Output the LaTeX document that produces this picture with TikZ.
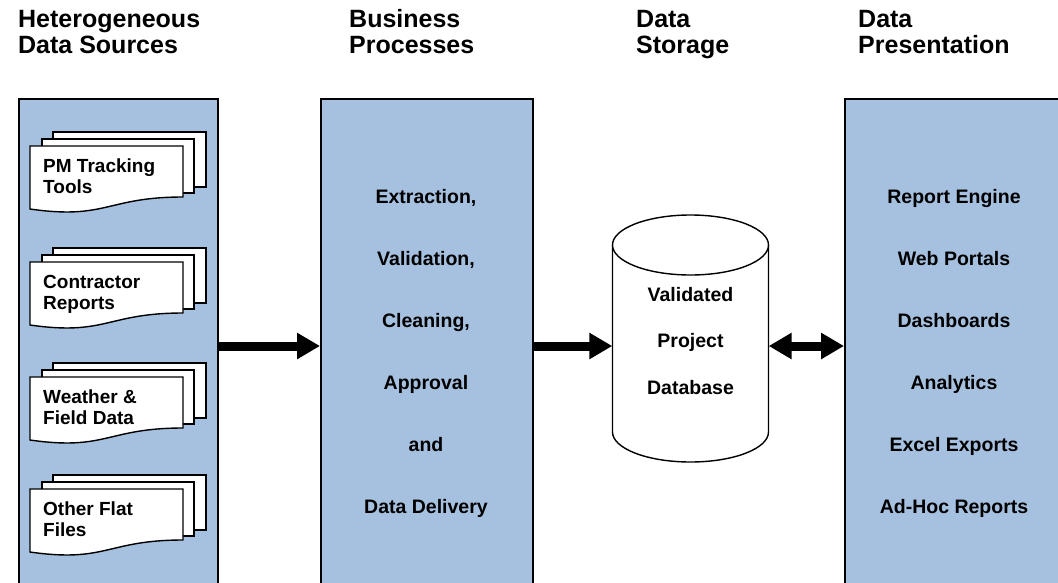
\documentclass[tikz,border=0pt]{standalone}
\usepackage{fontspec}
\setmainfont{Liberation Sans}
\usetikzlibrary{arrows.meta}
\definecolor{panelblue}{RGB}{166,193,224}
\newcommand{\docstack}[4]{%
  \draw[sheet] (53,#1-14) rectangle (206,#1+41);
  \draw[sheet] (42,#1-7) rectangle (194,#1+47);
  \draw[sheet] (30,#1) -- (183,#1) -- (183,#1+51) .. controls (106.5,#1+51) and (106.5,#1+74) .. (30,#1+63) -- cycle;
  \node[doclbl] (#2a) at (43,#1+26) {#3};
  \node[doclbl] (#2b) at (43,#1+47.5) {#4};
}
\begin{document}
\begin{tikzpicture}[x=1pt,y=-1pt,
  panel/.style={draw=black, line width=2.2pt, fill=panelblue, inner sep=0pt, anchor=north west},
  hdr/.style={anchor=base west, inner sep=0pt, font=\fontsize{25}{26}\selectfont\bfseries},
  lbl/.style={anchor=base, inner sep=0pt, font=\fontsize{19.5}{21}\selectfont\bfseries},
  doclbl/.style={anchor=base west, inner sep=0pt, font=\fontsize{19}{21}\selectfont\bfseries},
  sheet/.style={draw=black, line width=1.4pt, fill=white},
  bigarrow/.style={line width=9pt, -{Triangle[length=23pt,width=25pt]}},
  dblarrow/.style={line width=9pt, {Triangle[length=23pt,width=25pt]}-{Triangle[length=23pt,width=25pt]}}
]
\useasboundingbox (0,0) rectangle (1058,582);

% headers
\node[hdr] (h1a) at (18,27) {Heterogeneous};
\node[hdr] (h1b) at (18,53) {Data Sources};
\node[hdr] (h2a) at (349,27) {Business};
\node[hdr] (h2b) at (349,53) {Processes};
\node[hdr] (h3a) at (636,27) {Data};
\node[hdr] (h3b) at (636,53) {Storage};
\node[hdr] (h4a) at (858,27) {Data};
\node[hdr] (h4b) at (858,53) {Presentation};

% panels
\node[panel, minimum width=199pt, minimum height=520pt] (p1) at (18,98) {};
\node[panel, minimum width=212pt, minimum height=520pt] (p2) at (320,98) {};
\node[panel, minimum width=222pt, minimum height=520pt] (p4) at (844,98) {};

% document stacks
\docstack{146}{da}{PM Tracking}{Tools}
\docstack{262}{db}{Contractor}{Reports}
\docstack{377}{dc}{Weather \&}{Field Data}
\docstack{489}{dd}{Other Flat}{Files}

% business processes
\node[lbl] (b1) at (426,203) {Extraction,};
\node[lbl] (b2) at (426,265) {Validation,};
\node[lbl] (b3) at (426,327) {Cleaning,};
\node[lbl] (b4) at (426,389) {Approval};
\node[lbl] (b5) at (426,451) {and};
\node[lbl] (b6) at (426,513) {Data Delivery};

% presentation
\node[lbl] (r1) at (954,203) {Report Engine};
\node[lbl] (r2) at (954,265) {Web Portals};
\node[lbl] (r3) at (954,327) {Dashboards};
\node[lbl] (r4) at (954,389) {Analytics};
\node[lbl] (r5) at (954,451) {Excel Exports};
\node[lbl] (r6) at (954,513) {Ad-Hoc Reports};

% database cylinder
\node[inner sep=0pt, minimum width=156pt, minimum height=247pt] (dbase) at (690.5,338.5) {};
\draw[sheet] (612.5,245) -- (612.5,432) arc[start angle=180,end angle=360,x radius=78pt,y radius=30pt]
  -- (768.5,245) arc[start angle=0,end angle=180,x radius=78pt,y radius=30pt] -- cycle;
\draw[sheet] (612.5,245) arc[start angle=180,end angle=360,x radius=78pt,y radius=30pt];
\node[lbl] (v1) at (690.5,301.5) {Validated};
\node[lbl] (v2) at (690.5,347) {Project};
\node[lbl] (v3) at (690.5,394) {Database};

% arrows
\coordinate (ay) at (0,346);
\draw[bigarrow] (p1.east |- ay) -- (p2.west |- ay);
\draw[bigarrow] (p2.east |- ay) -- (dbase.west |- ay);
\draw[dblarrow] (dbase.east |- ay) -- (p4.west |- ay);
\end{tikzpicture}
\end{document}
